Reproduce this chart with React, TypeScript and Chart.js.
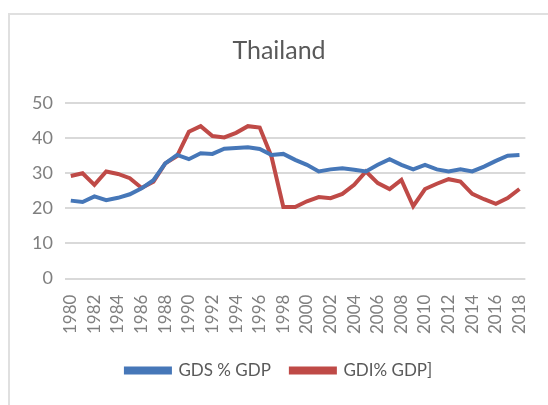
import React, { useEffect, useRef } from "react";
import { Chart, registerables } from "chart.js";

Chart.register(...registerables);

const years: string[] = [
  "1980","1981","1982","1983","1984","1985","1986","1987","1988","1989",
  "1990","1991","1992","1993","1994","1995","1996","1997","1998","1999",
  "2000","2001","2002","2003","2004","2005","2006","2007","2008","2009",
  "2010","2011","2012","2013","2014","2015","2016","2017","2018",
];

const gdsPctGdp: number[] = [
  22.2, 21.8, 23.4, 22.3, 23.0, 24.0, 25.7, 28.0, 32.8, 35.2,
  34.0, 35.7, 35.5, 37.0, 37.2, 37.4, 36.9, 35.2, 35.5, 33.8,
  32.4, 30.5, 31.1, 31.4, 31.0, 30.5, 32.4, 34.0, 32.4, 31.1,
  32.4, 31.1, 30.5, 31.1, 30.5, 31.9, 33.5, 35.0, 35.2,
];

const gdiPctGdp: number[] = [
  29.2, 30.0, 26.7, 30.5, 29.8, 28.6, 25.8, 27.6, 32.8, 34.9,
  41.8, 43.4, 40.6, 40.2, 41.5, 43.4, 43.0, 34.7, 20.4, 20.4,
  22.0, 23.2, 22.9, 24.1, 26.7, 30.5, 27.2, 25.5, 28.1, 20.6,
  25.5, 27.0, 28.3, 27.6, 24.1, 22.6, 21.3, 22.9, 25.5,
];

const yTicks: number[] = [0, 10, 20, 30, 40, 50];

const titleText = "Thailand";
const seriesNames: string[] = ["GDS % GDP", "GDI% GDP]"];

export default function App() {
  const canvasRef = useRef<HTMLCanvasElement | null>(null);

  useEffect(() => {
    if (!canvasRef.current) return;
    const blue = "#4677b8";
    const red = "#bf4a47";
    const chart = new Chart(canvasRef.current, {
      type: "line",
      data: {
        labels: years,
        datasets: [
          {
            label: seriesNames[0],
            data: gdsPctGdp,
            borderColor: blue,
            backgroundColor: blue,
            borderWidth: 4,
            pointRadius: 0,
            tension: 0,
          },
          {
            label: seriesNames[1],
            data: gdiPctGdp,
            borderColor: red,
            backgroundColor: red,
            borderWidth: 4,
            pointRadius: 0,
            tension: 0,
          },
        ],
      },
      options: {
        animation: false,
        responsive: false,
        maintainAspectRatio: false,
        layout: { padding: { left: 10, right: 10, top: 6, bottom: 16 } },
        plugins: {
          title: {
            display: true,
            text: titleText,
            color: "#595959",
            font: { family: "Lato", size: 25, weight: "normal" },
            padding: { top: 15, bottom: 37 },
          },
          legend: {
            position: "bottom",
            labels: {
              color: "#595959",
              font: { family: "Lato", size: 17 },
              boxWidth: 44,
              boxHeight: 4,
              padding: 20,
            },
          },
          tooltip: { enabled: false },
        },
        scales: {
          x: {
            offset: true,
            grid: { display: false },
            border: { display: false },
            ticks: {
              autoSkip: false,
              maxRotation: 90,
              minRotation: 90,
              color: "#7f7f7f",
              font: { family: "Lato", size: 17 },
              padding: 8,
              callback: function (_v: any, i: number) {
                return i % 2 === 0 ? years[i] : "";
              },
            },
          },
          y: {
            min: yTicks[0],
            max: yTicks[yTicks.length - 1],
            afterBuildTicks: (axis: any) => {
              axis.ticks = yTicks.map((v) => ({ value: v }));
            },
            grid: { color: "#d9d9d9", lineWidth: 2, drawTicks: false },
            border: { display: false },
            ticks: {
              color: "#7f7f7f",
              font: { family: "Lato", size: 18 },
              padding: 12,
            },
          },
        },
      },
    });
    return () => chart.destroy();
  }, []);

  return (
    <div
      style={{
        position: "fixed",
        left: 8,
        top: 13,
        width: 540,
        height: 392,
        borderTop: "2px solid #e0e0e0",
        borderLeft: "2px solid #e0e0e0",
        background: "#fff",
      }}
    >
      <canvas ref={canvasRef} width={538} height={390} />
    </div>
  );
}
